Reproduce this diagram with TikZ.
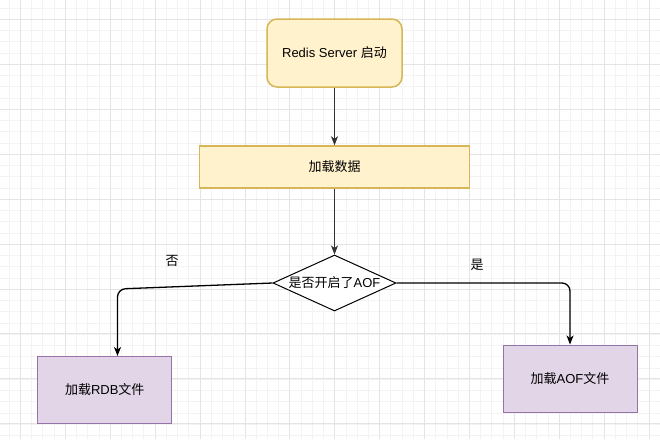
\documentclass[tikz,border=0pt]{standalone}
\usepackage{fontspec}
\setmainfont{Liberation Sans}
\newfontfamily\cjk{Noto Sans CJK SC}
\usetikzlibrary{arrows.meta,shapes.geometric}
\definecolor{ylwfill}{HTML}{FFF2CC}
\definecolor{ylwline}{HTML}{D6B656}
\definecolor{prpfill}{HTML}{E1D5E7}
\definecolor{prpline}{HTML}{9673A6}
\definecolor{gridminor}{HTML}{F3F3F3}
\definecolor{gridmajor}{HTML}{E4E4E4}

\begin{document}
\begin{tikzpicture}[x=1pt,y=-1pt,
  every node/.style={font=\fontsize{13}{15}\selectfont},
  startbox/.style={draw=ylwline,fill=ylwfill,line width=1.5pt,rounded corners=10pt,minimum width=135pt,minimum height=68pt},
  loadbox/.style={draw=ylwline,fill=ylwfill,line width=1.5pt,minimum width=270pt,minimum height=42pt},
  decision/.style={draw,diamond,fill=white,line width=1pt,inner sep=0pt,minimum width=123pt,minimum height=56pt},
  filebox/.style={draw=prpline,fill=prpfill,line width=1pt,minimum width=134pt,minimum height=67pt},
  arr/.style={-{Stealth[length=9pt,width=7pt,inset=2.5pt]},draw=black!80,line width=0.8pt},
  branch/.style={-{Stealth[length=9pt,width=7pt,inset=2.5pt]},line width=1.3pt,rounded corners=8pt}]
\useasboundingbox (0,0) rectangle (660,439);
\fill[white] (0,0) rectangle (660,439);
% grid
\foreach \gx in {-1.95,9.275,...,660} \draw[gridminor,line width=1pt] (\gx,0) -- (\gx,439);
\foreach \gy in {-3.2,8.05,...,439} \draw[gridminor,line width=1pt] (0,\gy) -- (660,\gy);
\foreach \gx in {20.5,65.4,...,660} \draw[gridmajor,line width=1pt] (\gx,0) -- (\gx,439);
\foreach \gy in {19.3,64.25,...,439} \draw[gridmajor,line width=1pt] (0,\gy) -- (660,\gy);
% boxes
\node[startbox] (start) at (334.5,53) {Redis Server {\cjk 启动}};
\node[loadbox] (load) at (334.5,167) {\cjk 加载数据};
\node[decision] (check) at (334.5,283) {\makebox[0pt]{{\cjk 是否开启了}AOF}};
\node[filebox] (rdb) at (104.75,390) {{\cjk 加载}RDB{\cjk 文件}};
\node[filebox] (aoffile) at (570,378.5) {{\cjk 加载}AOF{\cjk 文件}};
\node (no) at (172,261) {\cjk 否};
\node (yes) at (477,265) {\cjk 是};
% connectors
\coordinate (nobend) at (117.5,289);
\draw[arr] (start) -- (load);
\draw[arr] (load) -- (check);
\draw[branch] (check.west) -- (nobend) -- (nobend |- rdb.north);
\draw[branch] (check.east) -| (aoffile.north);
\end{tikzpicture}
\end{document}
